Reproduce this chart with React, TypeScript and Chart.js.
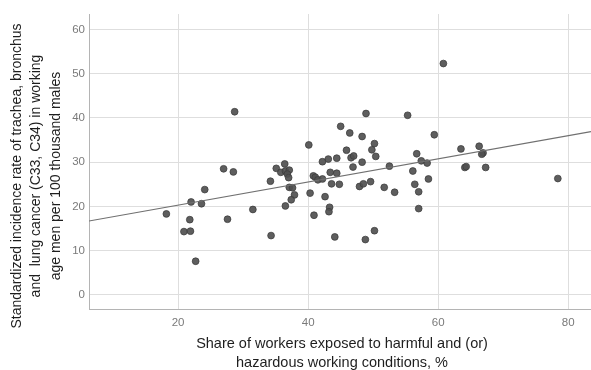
import React, { useEffect, useRef } from "react";
import { Chart, registerables } from "chart.js";

Chart.register(...registerables);

// Share of workers exposed to harmful/hazardous conditions, %
const shareX: number[] = [
  18.2, 20.9, 21.9, 21.8, 22.0, 22.7, 23.6, 24.1, 27.0, 28.5,
  27.6, 28.7, 31.5, 34.2, 34.3, 35.1, 36.4, 35.8, 36.5, 37.1,
  36.8, 37.0, 37.1, 37.6, 37.9, 37.4, 36.5, 40.1, 40.3, 40.9,
  40.8, 41.1, 41.5, 42.2, 42.2, 43.1, 44.4, 43.4, 44.4, 43.6,
  44.8, 42.6, 43.3, 43.2, 44.1, 45.0, 46.4, 48.3, 48.9, 45.9,
  46.6, 47.0, 48.3, 46.9, 50.2, 49.8, 50.4, 47.9, 48.5, 49.6,
  52.5, 51.7, 53.3, 50.2, 48.8, 55.3, 60.8, 59.4, 56.7, 57.4,
  58.3, 56.1, 58.5, 56.4, 57.0, 57.0, 63.5, 66.3, 66.9, 66.7,
  64.1, 64.3, 67.3, 78.4,
];
// Standardized incidence rate per 100 thousand males
const incidenceY: number[] = [
  18.3, 14.3, 14.4, 17.0, 21.0, 7.6, 20.6, 23.8, 28.5, 27.8,
  17.1, 41.4, 19.3, 25.7, 13.4, 28.6, 29.6, 27.7, 28.0, 28.2,
  27.3, 26.5, 24.3, 24.2, 22.6, 21.5, 20.1, 33.9, 23.0, 18.0,
  26.9, 26.6, 26.0, 26.2, 30.1, 30.7, 30.9, 27.7, 27.5, 25.1,
  25.0, 22.2, 19.8, 18.8, 13.1, 38.1, 36.6, 35.8, 41.0, 32.7,
  31.0, 31.4, 30.0, 28.9, 34.2, 32.8, 31.3, 24.5, 25.1, 25.6,
  29.1, 24.3, 23.2, 14.5, 12.5, 40.6, 52.3, 36.2, 31.9, 30.3,
  29.8, 28.0, 26.2, 25.0, 23.3, 19.5, 33.0, 33.6, 32.1, 31.8,
  28.8, 29.0, 28.8, 26.3,
];
// Fit line end points (x, y)
const fitX: number[] = [6.3, 83.5];
const fitY: number[] = [16.7, 36.9];

const xTicks: number[] = [20, 40, 60, 80];
const yTicks: number[] = [0, 10, 20, 30, 40, 50, 60];

const xTitleLines: string[] = [
  "Share of workers exposed to harmful and (or)",
  "hazardous working conditions, %",
];
const yTitleLines: string[] = [
  "Standardized incidence rate of trachea, bronchus",
  "and  lung cancer (C33, C34) in working",
  "age men per 100 thousand males",
];

const FONT = '"Liberation Sans", Arial, sans-serif';

const titlePlugin = {
  id: "customTitles",
  afterDraw(chart: any) {
    const ctx = chart.ctx as CanvasRenderingContext2D;
    const area = chart.chartArea;
    ctx.save();
    ctx.fillStyle = "#1e1e1e";
    ctx.textAlign = "center";
    ctx.textBaseline = "alphabetic";
    ctx.font = `14.5px ${FONT}`;
    const cx = (area.left + area.right) / 2 + 2;
    xTitleLines.forEach((t, i) => {
      ctx.fillText(t, cx, 348 + i * 18.7);
    });
    ctx.font = `14px ${FONT}`;
    const cy = 176;
    yTitleLines.forEach((t, i) => {
      ctx.save();
      ctx.translate(20.7 + i * 19.7, cy);
      ctx.rotate(-Math.PI / 2);
      ctx.fillText(t, 0, 0);
      ctx.restore();
    });
    ctx.restore();
  },
};

export default function App() {
  const ref = useRef<HTMLCanvasElement | null>(null);
  useEffect(() => {
    if (!ref.current) return;
    const points = shareX.map((x, i) => ({ x, y: incidenceY[i] }));
    const fit = fitX.map((x, i) => ({ x, y: fitY[i] }));
    const chart = new Chart(ref.current, {
      type: "scatter",
      data: {
        datasets: [
          {
            type: "line",
            data: fit,
            borderColor: "#707070",
            borderWidth: 1.2,
            pointRadius: 0,
            fill: false,
            order: 0,
          } as any,
          {
            data: points,
            pointRadius: 3.4,
            pointBackgroundColor: "rgba(80,80,80,0.92)",
            pointBorderColor: "rgba(60,60,60,0.95)",
            pointBorderWidth: 0.8,
            order: 1,
          },
        ],
      },
      options: {
        animation: false,
        responsive: false,
        devicePixelRatio: 1,
        layout: {
          autoPadding: false,
          padding: { top: 14, right: 0, left: 0, bottom: 0 },
        },
        plugins: { legend: { display: false }, tooltip: { enabled: false } },
        scales: {
          x: {
            type: "linear",
            min: 6.3,
            max: 83.5,
            afterBuildTicks: (s: any) => {
              s.ticks = xTicks.map((v) => ({ value: v }));
            },
            afterFit: (s: any) => {
              s.height = 61;
              s.paddingLeft = 0;
              s.paddingRight = 0;
            },
            grid: { color: "#dedede", lineWidth: 1, drawTicks: false },
            border: { display: true, color: "#b4b4b4", width: 1 },
            ticks: {
              color: "#7a7a7a",
              font: { family: FONT, size: 11.5 },
              padding: 7,
            },
          },
          y: {
            type: "linear",
            min: -3.2,
            max: 63.5,
            afterBuildTicks: (s: any) => {
              s.ticks = yTicks.map((v) => ({ value: v }));
            },
            afterFit: (s: any) => {
              s.width = 89;
              s.paddingTop = 0;
              s.paddingBottom = 0;
            },
            grid: { color: "#dedede", lineWidth: 1, drawTicks: false },
            border: { display: true, color: "#b4b4b4", width: 1 },
            ticks: {
              color: "#7a7a7a",
              font: { family: FONT, size: 11.5 },
              padding: 4,
            },
          },
        },
      },
      plugins: [titlePlugin],
    });
    return () => chart.destroy();
  }, []);
  return (
    <canvas
      ref={ref}
      width={591}
      height={370}
      style={{ position: "absolute", left: 0, top: 0, width: 591, height: 370 }}
    />
  );
}
